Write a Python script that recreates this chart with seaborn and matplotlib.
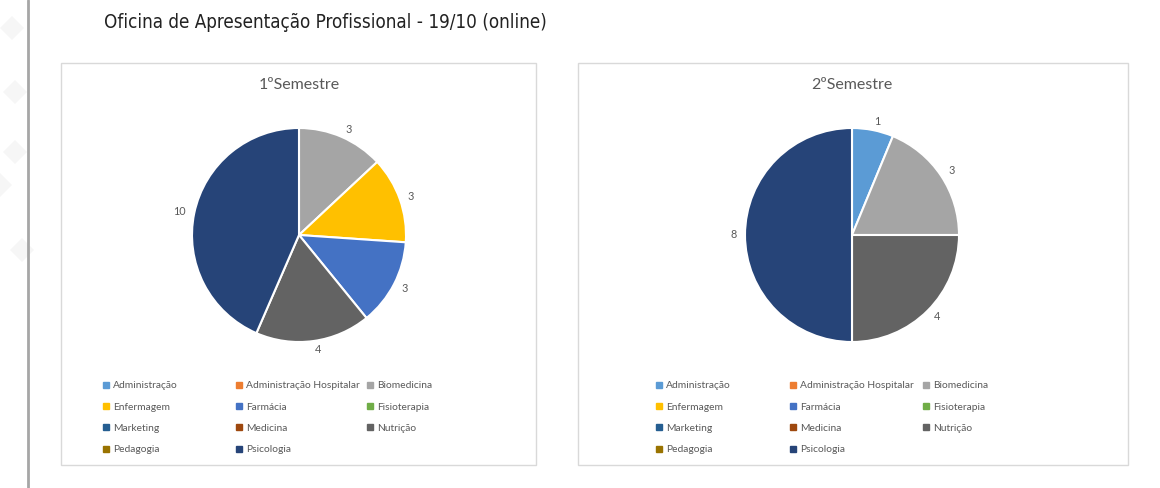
import matplotlib.pyplot as plt
import seaborn as sns
from matplotlib.lines import Line2D
from matplotlib.patches import Polygon, Rectangle

# data
cursos = [
    "Administração", "Administração Hospitalar", "Biomedicina",
    "Enfermagem", "Farmácia", "Fisioterapia",
    "Marketing", "Medicina", "Nutrição",
    "Pedagogia", "Psicologia",
]
sem1 = [0, 0, 3, 3, 3, 0, 0, 0, 4, 0, 10]
sem2 = [1, 0, 3, 0, 0, 0, 0, 0, 4, 0, 8]
cores = [
    "#5B9BD5", "#ED7D31", "#A5A5A5",
    "#FFC000", "#4472C4", "#70AD47",
    "#255E91", "#9E480E", "#636363",
    "#997300", "#264478",
]
titulo = "Oficina de Apresentação Profissional - 19/10 (online)"
titulos_pizza = ["1ºSemestre", "2ºSemestre"]

sns.set_theme(style="white")
plt.rcParams["font.family"] = ["Lato", "DejaVu Sans"]

W, H = 1160, 488
fig = plt.figure(figsize=(W / 100, H / 100), dpi=100)
fig.patch.set_facecolor("white")


def fx(px):
    return px / W


def fy(py):
    return 1 - py / H


# faint diamonds on the left edge
for cx, cy in [(12, 28), (15, 92), (15, 152), (0, 185), (22, 250)]:
    d = 12
    fig.patches.append(Polygon(
        [(fx(cx - d), fy(cy)), (fx(cx), fy(cy - d)),
         (fx(cx + d), fy(cy)), (fx(cx), fy(cy + d))],
        closed=True, transform=fig.transFigure, facecolor="#F6F6F6",
        edgecolor="none", zorder=0,
    ))

# vertical rule
fig.add_artist(Line2D([fx(28), fx(28)], [0, 1], color="#A6A6A6",
                      linewidth=2, transform=fig.transFigure))

fig.text(fx(104), fy(22), titulo, fontsize=13.5, color="#222222",
         va="center", ha="left", family="DejaVu Sans",
         fontstretch="condensed")

paineis = [
    dict(box=(61, 63, 536, 465), cx=299, cy=235, valores=sem1,
         cols=(105, 238, 369)),
    dict(box=(578, 63, 1128, 465), cx=852, cy=235, valores=sem2,
         cols=(658, 792, 925)),
]
raio = 107
ordem_legenda = [[0, 3, 6, 9], [1, 4, 7, 10], [2, 5, 8]]

for p, nome in zip(paineis, titulos_pizza):
    x0, y0, x1, y1 = p["box"]
    fig.patches.append(Rectangle(
        (fx(x0), fy(y1)), fx(x1 - x0), (y1 - y0) / H,
        transform=fig.transFigure, facecolor="white",
        edgecolor="#D9D9D9", linewidth=1, zorder=0,
    ))

    fig.text(fx(p["cx"]), fy(85), nome, fontsize=11.5, color="#595959",
             ha="center", va="center")

    ax = fig.add_axes([
        fx(p["cx"] - raio), fy(p["cy"] + raio),
        fx(2 * raio), 2 * raio / H,
    ])
    ax.set_zorder(3)
    vals = [v for v in p["valores"] if v > 0]
    cs = [c for v, c in zip(p["valores"], cores) if v > 0]
    ax.pie(
        vals, colors=cs, labels=[str(v) for v in vals],
        startangle=90, counterclock=False, labeldistance=1.08,
        wedgeprops=dict(edgecolor="white", linewidth=1.5),
        textprops=dict(fontsize=7.8, color="#595959"),
    )
    ax.set_xlim(-1, 1)
    ax.set_ylim(-1, 1)
    ax.set_facecolor("none")

    for col, idx in zip(p["cols"], ordem_legenda):
        handles = [
            Line2D([], [], marker="s", linestyle="none", markersize=3.8,
                   markerfacecolor=cores[i], markeredgecolor=cores[i])
            for i in idx
        ]
        leg = fig.legend(
            handles, [cursos[i] for i in idx],
            loc="upper left", bbox_to_anchor=(fx(col - 2), fy(381)),
            frameon=False, fontsize=7.4, labelcolor="#595959",
            handlelength=0.6, handletextpad=0.35, labelspacing=1.18,
            borderpad=0, borderaxespad=0,
        )
        leg.set_zorder(4)

fig.savefig("out.png", dpi=100, facecolor="white")
